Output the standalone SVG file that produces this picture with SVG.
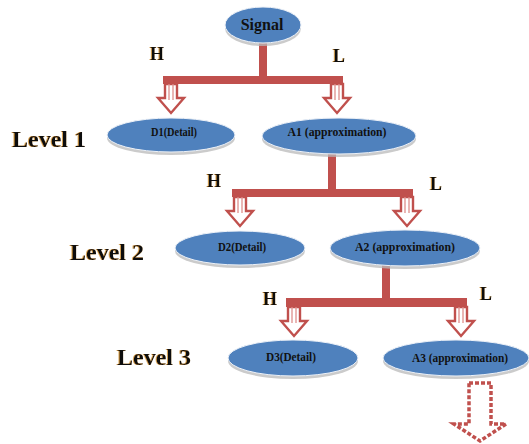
<svg xmlns="http://www.w3.org/2000/svg" xmlns:xlink="http://www.w3.org/1999/xlink" width="529" height="444" viewBox="0 0 529 444">
<defs>
<style>
.sh{fill:#b9b9b9;opacity:0.75}
.nd{fill:#4f81bd;stroke:#eef2f8;stroke-width:1}
.nt{font-family:"Liberation Serif","Times New Roman",serif;font-weight:bold;fill:#111;text-anchor:middle}
.lv{font-family:"Liberation Serif","Times New Roman",serif;font-weight:bold;font-size:24px;fill:#111;filter:url(#ts)}
.hl{font-family:"Liberation Serif","Times New Roman",serif;font-weight:bold;font-size:18px;fill:#111;filter:url(#ts)}
.br{fill:#c0504d}
.ar{fill:#fff;stroke:#c0504d;stroke-width:2.4;stroke-linejoin:miter}
.st{stroke:#dd8f8c;stroke-width:1.3}
.da{fill:#fff;stroke:#c0504d;stroke-width:3.5;stroke-dasharray:4 2}
</style>
<filter id="ts" x="-20%" y="-20%" width="140%" height="140%">
<feDropShadow dx="-0.8" dy="0" stdDeviation="0.3" flood-color="#d08a20" flood-opacity="0.9"/>
</filter>
<g id="arr">
<path class="ar" d="M-6,0 V14 H-13 L0,29 L13,14 H6 V0 Z"/>
<line class="st" x1="-2" y1="0" x2="-2" y2="16"/>
<line class="st" x1="2" y1="0" x2="2" y2="16"/>
</g>
</defs>

<g id="connectors">
<rect class="br" x="259" y="42" width="8" height="38"/>
<rect class="br" x="163" y="76" width="180" height="8"/>
<use xlink:href="#arr" x="171" y="84"/>
<use xlink:href="#arr" x="337" y="84"/>

<rect class="br" x="328" y="153" width="8" height="40"/>
<rect class="br" x="232" y="189" width="181" height="8"/>
<use xlink:href="#arr" x="240" y="197"/>
<use xlink:href="#arr" x="407" y="197"/>

<rect class="br" x="382" y="265" width="8" height="38"/>
<rect class="br" x="286" y="298" width="181" height="9"/>
<use xlink:href="#arr" x="294" y="307"/>
<use xlink:href="#arr" x="461" y="307"/>

<path class="da" d="M469,383 H491 V424 H506 L480,441 L454,424 H469 Z"/>
</g>

<g id="signal">
<ellipse class="sh" cx="263" cy="28" rx="38" ry="18"/>
<ellipse class="nd" cx="263" cy="25" rx="38" ry="18"/>
<text class="nt" x="262" y="30" font-size="16">Signal</text>
</g>

<g id="d1">
<ellipse class="sh" cx="171" cy="138" rx="64" ry="17"/>
<ellipse class="nd" cx="171" cy="135" rx="64" ry="17"/>
<text class="nt" x="174" y="136" font-size="12" textLength="46" lengthAdjust="spacingAndGlyphs">D1(Detail)</text>
</g>

<g id="a1">
<ellipse class="sh" cx="339" cy="139" rx="77" ry="18"/>
<ellipse class="nd" cx="339" cy="136" rx="77" ry="18"/>
<text class="nt" x="337" y="136" font-size="12" textLength="99" lengthAdjust="spacingAndGlyphs">A1 (approximation)</text>
</g>

<g id="d2">
<ellipse class="sh" cx="240" cy="251" rx="65" ry="17"/>
<ellipse class="nd" cx="240" cy="248" rx="65" ry="17"/>
<text class="nt" x="242" y="251" font-size="12" textLength="48" lengthAdjust="spacingAndGlyphs">D2(Detail)</text>
</g>

<g id="a2">
<ellipse class="sh" cx="405" cy="251" rx="75" ry="18"/>
<ellipse class="nd" cx="405" cy="248" rx="75" ry="18"/>
<text class="nt" x="405" y="251" font-size="12" textLength="100" lengthAdjust="spacingAndGlyphs">A2 (approximation)</text>
</g>

<g id="d3">
<ellipse class="sh" cx="293" cy="361" rx="65" ry="18"/>
<ellipse class="nd" cx="293" cy="358" rx="65" ry="18"/>
<text class="nt" x="291" y="361" font-size="12" textLength="50" lengthAdjust="spacingAndGlyphs">D3(Detail)</text>
</g>

<g id="a3">
<ellipse class="sh" cx="456" cy="361" rx="73" ry="18"/>
<ellipse class="nd" cx="456" cy="358" rx="73" ry="18"/>
<text class="nt" x="460" y="362" font-size="12" textLength="96" lengthAdjust="spacingAndGlyphs">A3 (approximation)</text>
</g>

<g id="labels">
<text class="lv" x="12" y="147">Level 1</text>
<text class="lv" x="70" y="260">Level 2</text>
<text class="lv" x="117" y="365">Level 3</text>
<text class="hl" x="150" y="60">H</text>
<text class="hl" x="333" y="62">L</text>
<text class="hl" x="207" y="187">H</text>
<text class="hl" x="430" y="190">L</text>
<text class="hl" x="263" y="305">H</text>
<text class="hl" x="480" y="300">L</text>
</g>
</svg>
